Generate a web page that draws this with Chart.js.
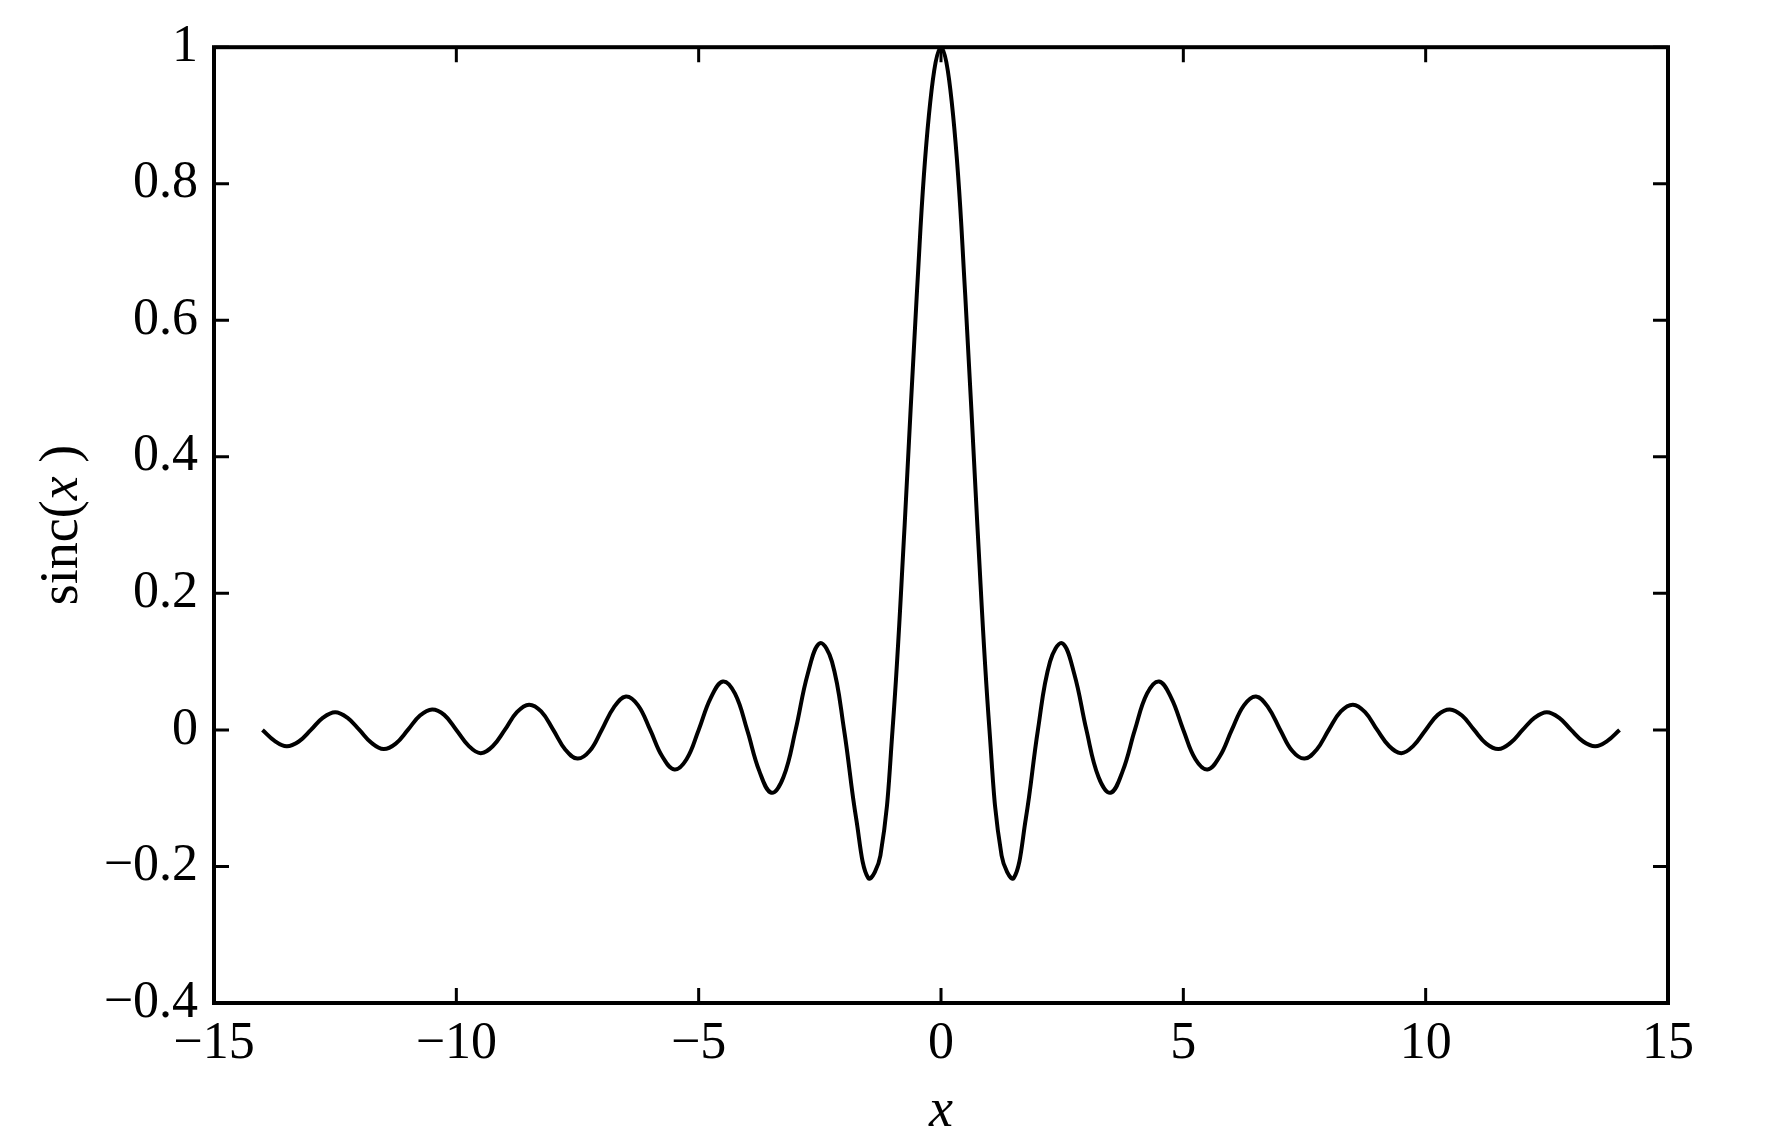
<!DOCTYPE html>
<html>
<head>
<meta charset="utf-8">
<script src="https://cdn.jsdelivr.net/npm/chart.js@4.4.1/dist/chart.umd.min.js"></script>
<style>
  body { margin: 0; background: #fff; }
</style>
</head>
<body>
<canvas id="sincChart" width="1790" height="1148"></canvas>
<script>
const xValues = [
  -14, -13.75, -13.5, -13.25, -13, -12.75, -12.5, -12.25, -12, -11.75, -11.5, -11.25,
  -11, -10.75, -10.5, -10.25, -10, -9.75, -9.5, -9.25, -9, -8.75, -8.5, -8.25,
  -8, -7.75, -7.5, -7.25, -7, -6.75, -6.5, -6.25, -6, -5.75, -5.5, -5.25,
  -5, -4.75, -4.5, -4.25, -4, -3.75, -3.5, -3.25, -3, -2.75, -2.5, -2.25,
  -2, -1.75, -1.5, -1.25, -1, -0.75, -0.5, -0.25,
  0,
  0.25, 0.5, 0.75, 1, 1.25, 1.5, 1.75, 2, 2.25, 2.5, 2.75, 3,
  3.25, 3.5, 3.75, 4, 4.25, 4.5, 4.75, 5, 5.25, 5.5, 5.75, 6,
  6.25, 6.5, 6.75, 7, 7.25, 7.5, 7.75, 8, 8.25, 8.5, 8.75, 9,
  9.25, 9.5, 9.75, 10, 10.25, 10.5, 10.75, 11, 11.25, 11.5, 11.75, 12,
  12.25, 12.5, 12.75, 13, 13.25, 13.5, 13.75, 14
];
const sincValues = [
  0, -0.016, -0.024, -0.017, 0, 0.018, 0.026, 0.018, 0, -0.019, -0.028, -0.020,
  0, 0.021, 0.030, 0.022, 0, -0.023, -0.034, -0.024, 0, 0.026, 0.037, 0.027,
  0, -0.029, -0.042, -0.031, 0, 0.033, 0.049, 0.036, 0, -0.039, -0.058, -0.043,
  0, 0.047, 0.071, 0.053, 0, -0.060, -0.092, -0.069, 0, 0.082, 0.127, 0.100,
  0, -0.130, -0.217, -0.184, 0, 0.300, 0.637, 0.900,
  1,
  0.900, 0.637, 0.300, 0, -0.184, -0.217, -0.130, 0, 0.100, 0.127, 0.082, 0,
  -0.069, -0.092, -0.060, 0, 0.053, 0.071, 0.047, 0, -0.043, -0.058, -0.039, 0,
  0.036, 0.049, 0.033, 0, -0.031, -0.042, -0.029, 0, 0.027, 0.037, 0.026, 0,
  -0.024, -0.034, -0.023, 0, 0.022, 0.030, 0.021, 0, -0.020, -0.028, -0.019, 0,
  0.018, 0.026, 0.018, 0, -0.017, -0.024, -0.016, 0
];
const xTicks = [-15, -10, -5, 0, 5, 10, 15];
const yTicks = [-0.4, -0.2, 0, 0.2, 0.4, 0.6, 0.8, 1];

const fontFamily = "'Liberation Serif', 'Times New Roman', serif";

function fmt(v) {
  return String(Number(v.toFixed(1))).replace('-', '\u2212');
}

// matlab style box with inward ticks on all four sides, plus the y label
const boxPlugin = {
  id: 'box',
  afterDraw(chart) {
    const { ctx, chartArea: a, scales } = chart;
    const len = 15;
    ctx.save();
    ctx.strokeStyle = '#000';
    ctx.lineWidth = 4;
    ctx.strokeRect(a.left, a.top, a.right - a.left, a.bottom - a.top);
    ctx.lineWidth = 3;
    ctx.beginPath();
    xTicks.forEach(t => {
      const px = scales.x.getPixelForValue(t);
      ctx.moveTo(px, a.bottom); ctx.lineTo(px, a.bottom - len);
      ctx.moveTo(px, a.top); ctx.lineTo(px, a.top + len);
    });
    yTicks.forEach(t => {
      const py = scales.y.getPixelForValue(t);
      ctx.moveTo(a.left, py); ctx.lineTo(a.left + len, py);
      ctx.moveTo(a.right, py); ctx.lineTo(a.right - len, py);
    });
    ctx.stroke();

    // y label: sinc(x) with italic x
    ctx.translate(63, (a.top + a.bottom) / 2);
    ctx.rotate(-Math.PI / 2);
    ctx.fillStyle = '#000';
    ctx.textBaseline = 'middle';
    const parts = [['sinc(', 'normal'], ['x', 'italic'], [' )', 'normal']];
    let total = 0;
    parts.forEach(p => { ctx.font = p[1] + ' 54px ' + fontFamily; total += ctx.measureText(p[0]).width; });
    let x0 = -total / 2;
    parts.forEach(p => {
      ctx.font = p[1] + ' 54px ' + fontFamily;
      ctx.fillText(p[0], x0, 0);
      x0 += ctx.measureText(p[0]).width;
    });
    ctx.restore();
  }
};

new Chart(document.getElementById('sincChart'), {
  type: 'line',
  data: {
    datasets: [{
      data: xValues.map((x, i) => ({ x: x, y: sincValues[i] })),
      borderColor: '#000',
      borderWidth: 4,
      pointRadius: 0,
      tension: 0.4,
      fill: false
    }]
  },
  options: {
    responsive: false,
    animation: false,
    devicePixelRatio: 1,
    layout: { padding: { top: 47, right: 122, left: 0, bottom: 0 } },
    plugins: { legend: { display: false }, tooltip: { enabled: false } },
    scales: {
      x: {
        type: 'linear',
        min: -15,
        max: 15,
        afterBuildTicks: s => { s.ticks = xTicks.map(v => ({ value: v })); },
        afterFit: s => { s.height = 145; },
        grid: { display: false, drawTicks: false },
        border: { display: false },
        ticks: {
          padding: 10,
          color: '#000',
          font: { family: fontFamily, size: 52 },
          maxRotation: 0,
          callback: v => fmt(v)
        },
        title: {
          display: true,
          text: 'x',
          color: '#000',
          font: { family: fontFamily, size: 54, style: 'italic' },
          padding: { top: 0 }
        }
      },
      y: {
        min: -0.4,
        max: 1,
        afterBuildTicks: s => { s.ticks = yTicks.map(v => ({ value: v })); },
        afterFit: s => { s.width = 214; },
        grid: { display: false, drawTicks: false },
        border: { display: false },
        ticks: {
          padding: 16,
          color: '#000',
          font: { family: fontFamily, size: 52 },
          callback: v => fmt(v)
        }
      }
    }
  },
  plugins: [boxPlugin]
});
</script>
</body>
</html>
